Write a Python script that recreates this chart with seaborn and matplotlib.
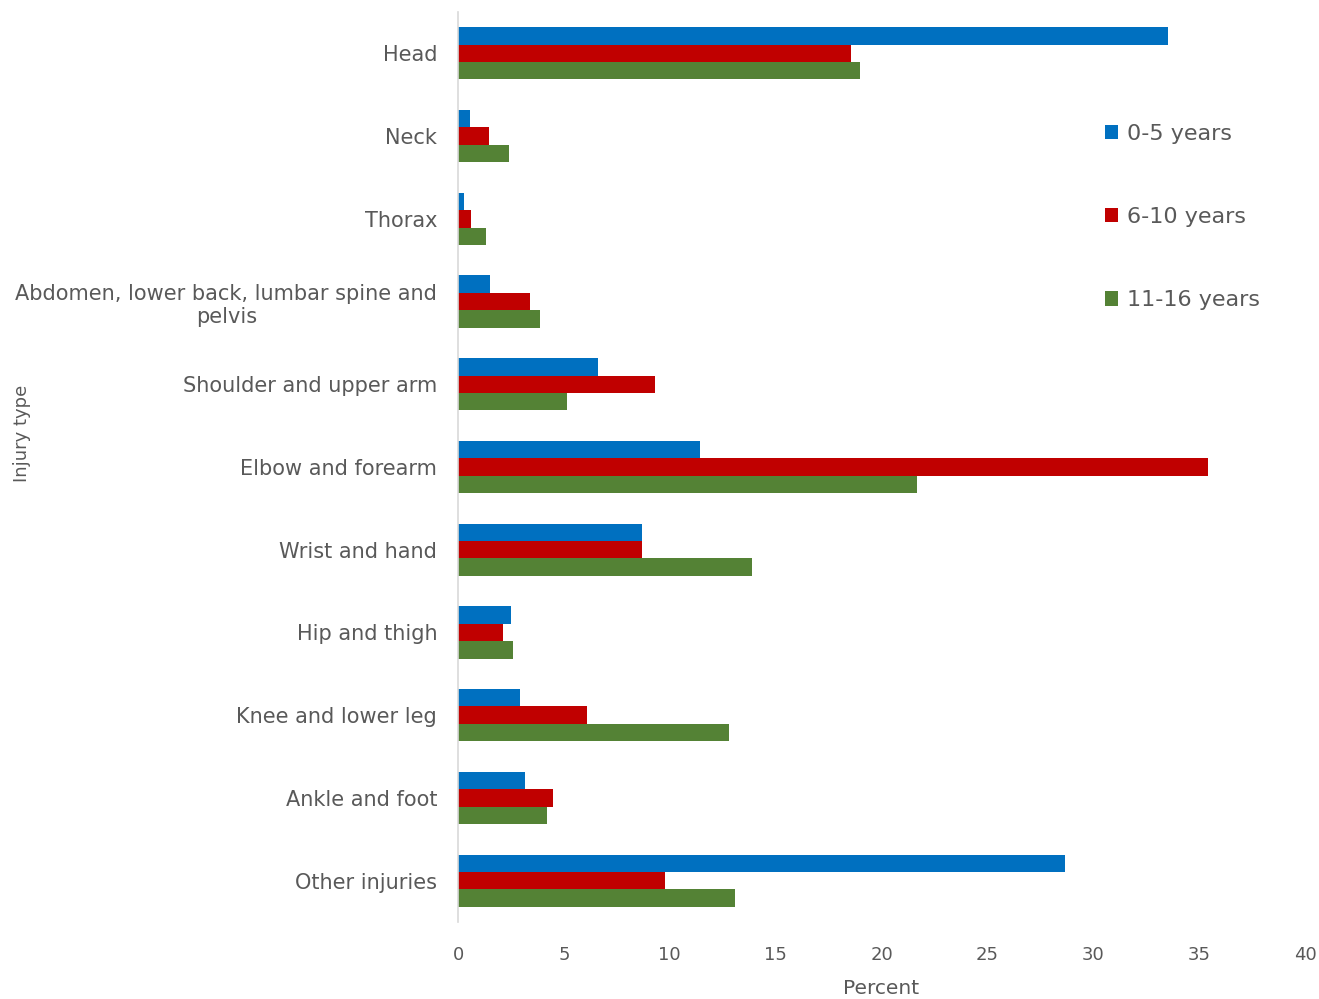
import matplotlib
matplotlib.use("Agg")
import matplotlib.pyplot as plt
import seaborn as sns
import pandas as pd

categories = [
    "Head", "Neck", "Thorax", "Abdomen, lower back, lumbar spine and\npelvis",
    "Shoulder and upper arm", "Elbow and forearm", "Wrist and hand",
    "Hip and thigh", "Knee and lower leg", "Ankle and foot", "Other injuries",
]
groups = ["0-5 years", "6-10 years", "11-16 years"]
vals_0_5 = [33.55, 0.58, 0.27, 1.50, 6.59, 11.45, 8.68, 2.49, 2.91, 3.16, 28.65]
vals_6_10 = [18.57, 1.45, 0.63, 3.40, 9.29, 35.42, 8.68, 2.11, 6.10, 4.51, 9.78]
vals_11_16 = [19.00, 2.41, 1.31, 3.89, 5.13, 21.70, 13.90, 2.60, 12.78, 4.20, 13.10]
colors = ["#0070C0", "#C00000", "#548235"]
xticks = [0, 5, 10, 15, 20, 25, 30, 35, 40]

rows = []
for g, vals in zip(groups, [vals_0_5, vals_6_10, vals_11_16]):
    for c, v in zip(categories, vals):
        rows.append({"Injury type": c, "Percent": v, "Age": g})
df = pd.DataFrame(rows)

sns.set_theme(style="white")
plt.rcParams["font.family"] = ["DejaVu Sans"]
text_color = "#595959"

fig = plt.figure(figsize=(13.19, 9.99), dpi=100)
ax = fig.add_axes([458 / 1319, 1 - 922 / 999, (1305 - 458) / 1319, (922 - 12) / 999])

sns.barplot(data=df, x="Percent", y="Injury type", hue="Age", order=categories,
            hue_order=groups, palette=colors, orient="h", width=0.63, gap=0,
            saturation=1, linewidth=0, ax=ax)

ax.set_xlim(0, 40)
ax.set_ylim(len(categories) - 0.5, -0.5)
ax.set_xticks(xticks)
ax.set_xticklabels([str(t) for t in xticks], fontsize=13, color=text_color)
ax.tick_params(axis="x", length=0, pad=17)
ax.tick_params(axis="y", length=0, pad=15)
for lab in ax.get_yticklabels():
    lab.set_fontsize(15)
    lab.set_color(text_color)
    lab.set_multialignment("center")

for s in ["top", "right", "bottom"]:
    ax.spines[s].set_visible(False)
ax.spines["left"].set_color("#d9d9d9")
ax.spines["left"].set_linewidth(1.2)

ax.set_xlabel("Percent", fontsize=14.5, color=text_color, va="center")
ax.xaxis.set_label_coords(0.5, (922 - 988) / 910)
ax.set_ylabel("Injury type", fontsize=13, color=text_color, va="center")
ax.yaxis.set_label_coords((22 - 458) / 847, (922 - 433) / 910)

handles, labels = ax.get_legend_handles_labels()
ax.legend(handles, labels, loc="center left", bbox_to_anchor=(1105 / 1319, 1 - 217 / 999),
          bbox_transform=fig.transFigure, frameon=False, fontsize=16,
          handlelength=0.6, handleheight=0.6, handletextpad=0.37,
          labelspacing=2.85, borderpad=0, borderaxespad=0, labelcolor=text_color)

fig.savefig("out.png", dpi=100)
